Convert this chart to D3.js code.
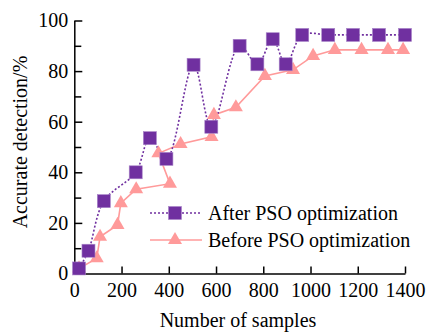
<!DOCTYPE html>
<html>
<head>
<meta charset="utf-8">
<script src="https://cdn.jsdelivr.net/npm/d3@7"></script>
<style>
  body { margin: 0; background: #fff; }
  svg text { font-family: "Liberation Serif", "Times New Roman", serif; }
</style>
</head>
<body>
<div id="chart"></div>
<script>
// data
var afterX  = [20, 60, 125, 260, 320, 390, 505, 580, 700, 775, 840, 895, 965, 1075, 1180, 1290, 1400];
var afterY  = [2, 9, 28.6, 40, 53.5, 45.3, 82.5, 58, 90, 82.7, 92.6, 82.7, 94.3, 94.3, 94.3, 94.3, 94.3];
var beforeX = [20, 95, 109, 183, 197, 262, 405, 356, 450, 581, 591, 684, 807, 926, 1011, 1103, 1216, 1328, 1392];
var beforeY = [2, 6, 14.5, 19.2, 27.8, 33.3, 35.5, 47.5, 51.2, 54, 62.7, 65.7, 78.1, 80.5, 86, 88.4, 88.4, 88.4, 88.4];
var xTicks = [0, 200, 400, 600, 800, 1000, 1200, 1400];
var yTicks = [0, 20, 40, 60, 80, 100];
var yMinor = [10, 30, 50, 70, 90];
var seriesNames = ["After PSO optimization", "Before PSO optimization"];

var W = 430, H = 333;
var purple = "#7030a0", pink = "#ff9a9a";
var fontFam = "Liberation Serif, Times New Roman, serif";

var svg = d3.select("#chart").append("svg")
    .attr("width", W)
    .attr("height", H);

var x = d3.scaleLinear().domain([0, 1400]).range([74.3, 405]);
var y = d3.scaleLinear().domain([0, 100]).range([273.5, 20.5]);

var after = afterX.map(function(d, i) { return [d, afterY[i]]; });
var before = beforeX.map(function(d, i) { return [d, beforeY[i]]; });

// axes, ticks pointing inward
svg.append("g")
    .attr("transform", "translate(" + x(0) + ",0)")
    .call(d3.axisLeft(y).tickValues(yTicks).tickFormat(d3.format("d"))
        .tickSizeInner(-8).tickSizeOuter(0).tickPadding(6));
svg.append("g")
    .attr("transform", "translate(" + x(0) + ",0)")
    .call(d3.axisLeft(y).tickValues(yMinor).tickSizeInner(-7).tickSizeOuter(0).tickFormat(""))
    .select(".domain").remove();
svg.append("g")
    .attr("transform", "translate(0," + y(0) + ")")
    .call(d3.axisBottom(x).tickValues(xTicks).tickFormat(d3.format("d"))
        .tickSizeInner(-7).tickSizeOuter(0).tickPadding(9));

svg.selectAll(".domain, .tick line").attr("stroke", "#000").attr("stroke-width", 1.5);
svg.selectAll(".tick text")
    .attr("fill", "#000")
    .attr("font-family", fontFam)
    .style("font-size", "20px");

// axis titles
svg.append("text")
    .attr("x", 238).attr("y", 327)
    .attr("text-anchor", "middle")
    .style("font-size", "20px")
    .text("Number of samples");
svg.append("text")
    .attr("transform", "translate(27,142) rotate(-90)")
    .attr("text-anchor", "middle")
    .style("font-size", "20px")
    .text("Accurate detection/%");

// lines
var lineAfter = d3.line()
    .x(function(d) { return x(d[0]); })
    .y(function(d) { return y(d[1]); })
    .curve(d3.curveCatmullRom.alpha(0.5));
var lineBefore = d3.line()
    .x(function(d) { return x(d[0]); })
    .y(function(d) { return y(d[1]); });

svg.append("path")
    .datum(before)
    .attr("fill", "none")
    .attr("stroke", pink)
    .attr("stroke-width", 1.6)
    .attr("d", lineBefore);

svg.append("path")
    .datum(after)
    .attr("fill", "none")
    .attr("stroke", purple)
    .attr("stroke-width", 1.6)
    .attr("stroke-dasharray", "2,2")
    .attr("d", lineAfter);

var tri = d3.symbol().type(d3.symbolTriangle).size(85);

svg.append("g")
    .selectAll("path")
    .data(before)
    .enter()
    .append("path")
      .attr("d", tri)
      .attr("fill", pink)
      .attr("transform", function(d) { return "translate(" + x(d[0]) + "," + y(d[1]) + ")"; });

svg.append("g")
    .selectAll("rect")
    .data(after)
    .enter()
    .append("rect")
      .attr("x", function(d) { return x(d[0]) - 6.5; })
      .attr("y", function(d) { return y(d[1]) - 6.5; })
      .attr("width", 13)
      .attr("height", 13)
      .attr("fill", purple)
      .attr("stroke", "#a884c8")
      .attr("stroke-width", 0.6);

// legend
var leg = svg.append("g");
var legY = [213, 240];
leg.append("line")
    .attr("x1", 150).attr("x2", 202).attr("y1", legY[0]).attr("y2", legY[0])
    .attr("stroke", purple).attr("stroke-width", 1.6).attr("stroke-dasharray", "2,2");
leg.append("rect")
    .attr("x", 168.5).attr("y", legY[0] - 6.5).attr("width", 13).attr("height", 13)
    .attr("fill", purple).attr("stroke", "#a884c8").attr("stroke-width", 0.6);
leg.append("line")
    .attr("x1", 150).attr("x2", 202).attr("y1", legY[1]).attr("y2", legY[1])
    .attr("stroke", pink).attr("stroke-width", 1.6);
leg.append("path")
    .attr("d", tri)
    .attr("fill", pink)
    .attr("transform", "translate(175," + legY[1] + ")");
leg.selectAll("text")
    .data(seriesNames)
    .enter()
    .append("text")
      .attr("x", 208)
      .attr("y", function(d, i) { return legY[i]; })
      .attr("dy", "0.35em")
      .style("font-size", "20px")
      .text(function(d) { return d; });
</script>
</body>
</html>
